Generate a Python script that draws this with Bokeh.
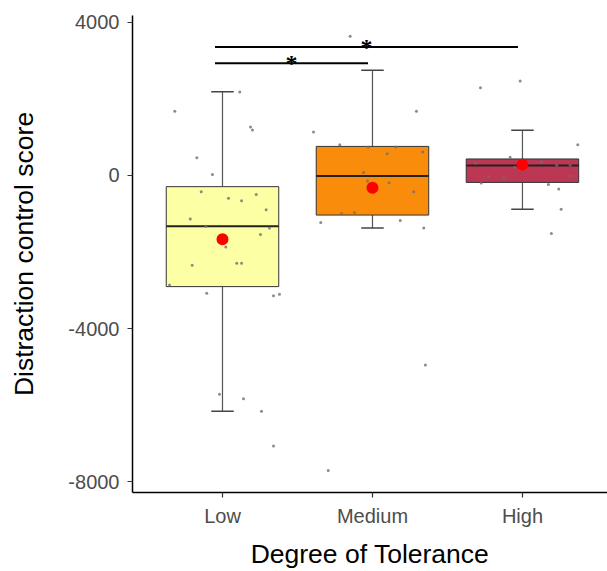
from bokeh.plotting import figure
from bokeh.models import Range1d, FixedTicker
from bokeh.embed import file_html
from bokeh.resources import INLINE
from bokeh.core.properties import value

# ---------------- data ----------------
groups = ["Low", "Medium", "High"]
box_colors = ["#FCFFA4", "#F98C0A", "#BB3754"]

q1 = [-2904, -1034, -181]
medians = [-1327, -10, 259]
q3 = [-292, 760, 432]
whisk_low = [-6162, -1371, -879]
whisk_high = [2190, 2751, 1182]
means = [-1663, -318, 284]

low_jitter = [0.115, -0.318, 0.187, 0.2, -0.171, -0.067, -0.142, 0.04, 0.127, 0.225,
              0.291, -0.215, -0.111, 0.313, 0.253, 0.022, -0.202, 0.095, 0.127, -0.353,
              -0.105, 0.34, 0.38, -0.02, 0.14, 0.26, 0.34]
low_vals = [2183, 1681, 1267, 1190, 465, 26, -422, -595, -662, -499,
            -895, -1138, -1327, -1371, -1541, -1870, -2343, -2291, -2291, -2860,
            -3077, -3145, -3103, -5715, -5834, -6162, -7068]

medium_jitter = [-0.149, 0.293, -0.393, -0.218, -0.029, 0.155, 0.098, 0.335, -0.06, -0.033,
                 0.111, 0.275, -0.207, -0.12, -0.345, 0.185, 0.342, 0.353, -0.295]
medium_vals = [3638, 1681, 1138, 802, 742, 742, 569, 613, 78, -145,
               -189, -422, -990, -965, -1231, -1179, -1371, -4955, -7706]

high_jitter = [-0.015, -0.28, 0.369, -0.082, -0.313, 0.127, 0.229, 0.318, -0.053, -0.225,
               -0.125, 0.32, -0.275, 0.173, 0.242, 0.258, 0.193]
high_vals = [2467, 2294, 802, 476, 328, 354, 269, 269, 217, -26,
             -67, -16, -197, -233, -352, -879, -1515]

# significance comparisons: (group a, group b, bar level, label)
comparisons = [("Low", "Medium", 2930, "*"), ("Low", "High", 3360, "*")]

y_ticks = [4000, 0, -4000, -8000]

# ---------------- figure ----------------
p = figure(width=607, height=571, output_backend="svg", toolbar_location=None,
           x_range=Range1d(0.4, 3.567), y_range=Range1d(-8284, 4181),
           min_border_left=132, min_border_right=0, min_border_top=15,
           min_border_bottom=74)
p.xgrid.visible = False
p.ygrid.visible = False
p.outline_line_color = None
p.background_fill_color = "white"
p.border_fill_color = "white"

xs = [i + 1 for i in range(len(groups))]
bw = 0.75
cw = 0.15

# whiskers
p.segment(x0=xs, y0=q3, x1=xs, y1=whisk_high, line_color="#555555", line_width=1.2)
p.segment(x0=xs, y0=q1, x1=xs, y1=whisk_low, line_color="#555555", line_width=1.2)
p.segment(x0=[x - cw / 2 for x in xs], y0=whisk_high, x1=[x + cw / 2 for x in xs],
          y1=whisk_high, line_color="#444444", line_width=1.5)
p.segment(x0=[x - cw / 2 for x in xs], y0=whisk_low, x1=[x + cw / 2 for x in xs],
          y1=whisk_low, line_color="#444444", line_width=1.5)

# boxes
p.quad(left=[x - bw / 2 for x in xs], right=[x + bw / 2 for x in xs], bottom=q1, top=q3,
       fill_color=box_colors, line_color="#333333", line_width=1)
p.segment(x0=[x - bw / 2 for x in xs], y0=medians, x1=[x + bw / 2 for x in xs],
          y1=medians, line_color="#222222", line_width=2)

# jittered points
for x, jit, vals in zip(xs, [low_jitter, medium_jitter, high_jitter],
                        [low_vals, medium_vals, high_vals]):
    p.scatter(x=[x + j for j in jit], y=vals, size=3, fill_color="#6f6f6f",
              line_color=None, fill_alpha=0.8)

# means
p.scatter(x=xs, y=means, size=12, fill_color="#FF0000", line_color=None)

# significance bars
for a, b, lvl, lab in comparisons:
    xa = groups.index(a) + 1 - 0.05
    xb = groups.index(b) + 1 - 0.03
    p.segment(x0=[xa], y0=[lvl], x1=[xb], y1=[lvl], line_color="black", line_width=2)
    p.text(x=[(xa + xb) / 2], y=[lvl], text=[lab], text_align="center",
           text_baseline="alphabetic", text_font=value("Liberation Serif"),
           text_font_size="24px", text_font_style="bold", text_color="black")

# axes
p.yaxis.ticker = FixedTicker(ticks=y_ticks)
p.yaxis.major_label_overrides = {t: str(t) for t in y_ticks}
p.xaxis.ticker = FixedTicker(ticks=xs)
p.xaxis.major_label_overrides = {x: g for x, g in zip(xs, groups)}

p.xaxis.axis_label = "Degree of Tolerance"
p.yaxis.axis_label = "Distraction control score"

for ax in [p.xaxis[0], p.yaxis[0]]:
    ax.axis_line_color = "black"
    ax.axis_line_width = 1.5
    ax.major_tick_line_color = "#333333"
    ax.major_tick_line_width = 1.2
    ax.major_tick_out = 5
    ax.major_tick_in = 0
    ax.minor_tick_out = 0
    ax.minor_tick_in = 0
    ax.major_label_text_font = "Liberation Sans"
    ax.major_label_text_font_size = "20px"
    ax.major_label_text_color = "#4D4D4D"
    ax.axis_label_text_font = "Liberation Sans"
    ax.axis_label_text_font_size = "26.5px"
    ax.axis_label_text_font_style = "normal"
    ax.axis_label_text_color = "black"

p.yaxis.major_label_standoff = 8
p.yaxis.axis_label_standoff = 26
p.xaxis.major_label_standoff = 7
p.xaxis.axis_label_standoff = 9

open("out.html", "w").write(file_html(p, INLINE))
